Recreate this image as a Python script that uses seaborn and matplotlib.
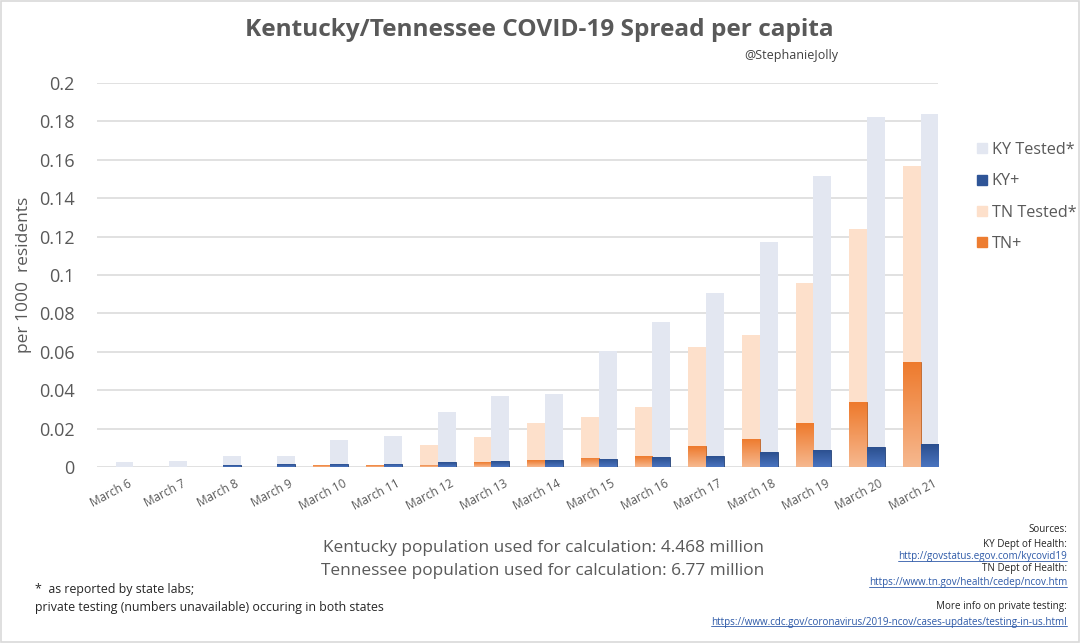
import numpy as np
import pandas as pd
import matplotlib
matplotlib.use("Agg")
import matplotlib.pyplot as plt
import matplotlib.transforms as mtransforms
from matplotlib.patches import Patch
from matplotlib.colors import LinearSegmentedColormap
import seaborn as sns

days = ["March 6", "March 7", "March 8", "March 9", "March 10", "March 11",
        "March 12", "March 13", "March 14", "March 15", "March 16", "March 17",
        "March 18", "March 19", "March 20", "March 21"]

ky_tested = [0.0025, 0.003, 0.0057, 0.0057, 0.014, 0.0163, 0.0286, 0.0371,
             0.0378, 0.0606, 0.0755, 0.0905, 0.117, 0.1517, 0.1821, 0.1838]
ky_pos = [0.0, 0.0, 0.0009, 0.0015, 0.0015, 0.0016, 0.0024, 0.003,
          0.0035, 0.0043, 0.005, 0.0056, 0.0078, 0.0089, 0.0104, 0.0118]
tn_tested = [0.0, 0.0, 0.0, 0.0, 0.0009, 0.0009, 0.0116, 0.0156,
             0.0227, 0.0259, 0.0314, 0.0627, 0.0688, 0.096, 0.124, 0.157]
tn_pos = [0.0, 0.0, 0.0, 0.0, 0.0009, 0.0009, 0.0012, 0.0024,
          0.0036, 0.0047, 0.0057, 0.0108, 0.0146, 0.0227, 0.0337, 0.0547]

states = ["TN", "KY"]
c_ky_t, c_ky_p = "#e3e7f1", "#2f5597"
c_tn_t, c_tn_p = "#fde0cb", "#ed7d31"
grey = "#595959"

df = pd.DataFrame({
    "day": days * 2,
    "state": ["TN"] * len(days) + ["KY"] * len(days),
    "tested": tn_tested + ky_tested,
    "pos": tn_pos + ky_pos,
})

sns.set_style("white")
plt.rcParams["font.family"] = ["Open Sans", "DejaVu Sans"]

fig = plt.figure(figsize=(10.8, 6.44), dpi=100)
ax = fig.add_axes([97 / 1080, 1 - 467 / 644, 841 / 1080, 384 / 644])

sns.barplot(data=df, x="day", y="tested", hue="state", hue_order=states,
            palette=[c_tn_t, c_ky_t], width=0.66, dodge=True, ax=ax,
            legend=False, saturation=1, linewidth=0, zorder=2)
n_tested = len(ax.patches)
sns.barplot(data=df, x="day", y="pos", hue="state", hue_order=states,
            palette=[c_tn_p, c_ky_p], width=0.66, dodge=True, ax=ax,
            legend=False, saturation=1, linewidth=0.6, zorder=3)

ax.set_ylim(0, 0.2)
ax.set_xlim(-0.35, 15.32)

# gradient fill on the positive bars (bright at top, lighter at the base)
grad = {c_tn_p: LinearSegmentedColormap.from_list("tn", ["#f6b88f", "#ee7a2c"]),
        c_ky_p: LinearSegmentedColormap.from_list("ky", ["#4a74c0", "#2b4f8e"])}
g = np.linspace(0, 1, 64).reshape(-1, 1)
for p in ax.patches[n_tested:]:
    fc = matplotlib.colors.to_hex(p.get_facecolor())
    p.set_edgecolor(tuple(np.array(p.get_facecolor()[:3]) * 0.8) + (1,))
    if p.get_height() <= 0:
        continue
    x0, w, h = p.get_x(), p.get_width(), p.get_height()
    im = ax.imshow(g, cmap=grad[fc], extent=(x0, x0 + w, 0, h), origin="lower",
                   aspect="auto", zorder=3.5, interpolation="bicubic")
    im.set_clip_path(p)
ax.set_xlim(-0.35, 15.32)
ax.set_ylim(0, 0.2)

ax.set_yticks(np.arange(0, 0.201, 0.02))
ax.set_yticklabels(["0", "0.02", "0.04", "0.06", "0.08", "0.1", "0.12",
                    "0.14", "0.16", "0.18", "0.2"])
ax.yaxis.grid(True, color="#d9d9d9", linewidth=1.1, zorder=0)
ax.set_axisbelow(True)
sns.despine(ax=ax, left=True, bottom=True)
ax.tick_params(axis="y", length=0, pad=16, labelsize=13, labelcolor=grey)
ax.tick_params(axis="x", length=0, pad=7, labelsize=8.5, labelcolor=grey)
for lbl in ax.get_xticklabels():
    lbl.set_rotation(28)
    lbl.set_ha("right")
    lbl.set_rotation_mode("anchor")
    lbl.set_transform(lbl.get_transform() +
                      mtransforms.ScaledTranslation(12 / 100, 0, fig.dpi_scale_trans))
ax.set_xlabel("")
ax.set_ylabel("per 1000  residents", fontsize=12.5, color=grey, labelpad=14)
ax.yaxis.set_label_coords(-65 / 841, 0.5)

fig.text(539 / 1080, 1 - 30 / 644, "Kentucky/Tennessee COVID-19 Spread per capita",
         ha="center", va="center", fontsize=17.6, fontweight="bold", color=grey)
fig.text(838 / 1080, 1 - 56 / 644, "@StephanieJolly", ha="right", va="center",
         fontsize=9, color="#404040")

handles = [Patch(color=c_ky_t), Patch(color=c_ky_p),
           Patch(color=c_tn_t), Patch(color=c_tn_p)]
fig.legend(handles, ["KY Tested*", "KY+", "TN Tested*", "TN+"],
           loc="upper left", bbox_to_anchor=(969 / 1080, 1 - 134 / 644),
           frameon=False, fontsize=11.6, labelcolor=grey, handlelength=0.6,
           handleheight=0.6, handletextpad=0.3, labelspacing=0.95,
           borderpad=0)

fig.text(543 / 1080, 1 - 548 / 644,
         "Kentucky population used for calculation: 4.468 million",
         ha="center", va="center", fontsize=12.4, color=grey)
fig.text(543 / 1080, 1 - 571 / 644,
         "Tennessee population used for calculation: 6.77 million",
         ha="center", va="center", fontsize=12.4, color=grey)

fig.text(35 / 1080, 1 - 589 / 644, "*  as reported by state labs;",
         ha="left", va="center", fontsize=8.9, color="#262626")
fig.text(35 / 1080, 1 - 608 / 644,
         "private testing (numbers unavailable) occuring in both states",
         ha="left", va="center", fontsize=8.9, color="#262626")

link = "#2e5aa8"
src = [
    ("Sources:", 530, "#262626", False),
    ("KY Dept of Health:", 545, "#262626", False),
    ("http://govstatus.egov.com/kycovid19", 557, link, True),
    ("TN Dept of Health:", 569, "#262626", False),
    ("https://www.tn.gov/health/cedep/ncov.htm", 583, link, True),
    ("More info on private testing:", 606, "#262626", False),
    ("https://www.cdc.gov/coronavirus/2019-ncov/cases-updates/testing-in-us.html", 622, link, True),
]
src_texts = []
for s, y, col, ul in src:
    t = fig.text(1067 / 1080, 1 - y / 644, s, ha="right", va="center",
                 fontsize=7.1, color=col)
    src_texts.append((t, ul))

# underline the links
fig.canvas.draw()
r = fig.canvas.get_renderer()
for t, ul in src_texts:
    if ul:
        bb = t.get_window_extent(r).transformed(fig.transFigure.inverted())
        fig.add_artist(plt.Line2D([bb.x0, bb.x1], [bb.y0 + 0.002, bb.y0 + 0.002],
                                  transform=fig.transFigure, color=link, lw=0.6))

# thin frame around the picture
fig.add_artist(plt.Rectangle((0.001, 0.003), 0.998, 0.995, transform=fig.transFigure,
                             fill=False, edgecolor="#d9d9d9", lw=1.2))

fig.savefig("out.png", dpi=100)
